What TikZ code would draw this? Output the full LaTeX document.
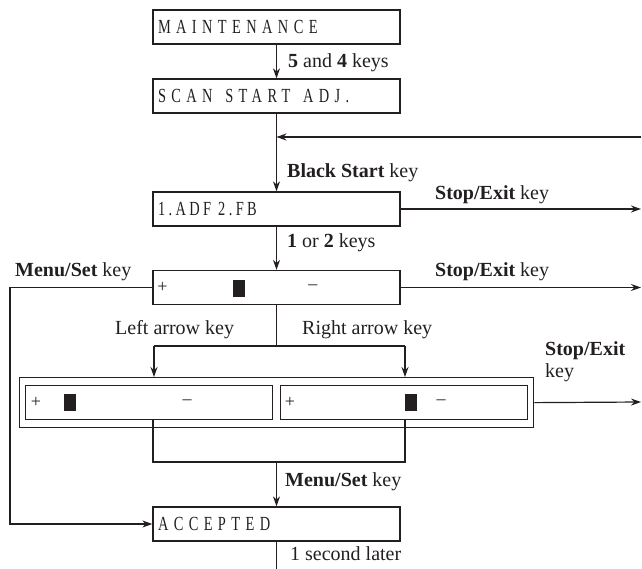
\documentclass[tikz,border=0pt]{standalone}
\usepackage{fontspec}
\setmainfont{Liberation Serif}
\newfontfamily\lcdfont[LetterSpace=27,FakeStretch=0.72]{Liberation Serif}
\newfontfamily\lcdnarrow[LetterSpace=17,FakeStretch=0.72]{Liberation Serif}
\usetikzlibrary{arrows.meta,positioning,calc}
\definecolor{ink}{RGB}{35,31,32}
\tikzset{
  >={Stealth[length=10pt,width=7pt]},
  lcd/.style={draw=ink,line width=1.3pt,minimum height=34pt,text width=237pt,
    inner xsep=5pt,inner ysep=0pt,align=left,text=ink,
    font=\lcdfont\fontsize{20}{22}\selectfont},
  frame/.style={draw=ink,line width=1.3pt,inner sep=0pt,anchor=north west},
  flow/.style={->,line width=1.2pt,draw=ink},
  wire/.style={line width=1.2pt,draw=ink},
  tag/.style={font=\fontsize{20}{22}\selectfont,text=ink,inner sep=0pt,anchor=west,align=left},
  sym/.style={font=\fontsize{18}{20}\selectfont,text=ink,inner sep=0pt},
  cursor/.style={fill=ink,draw=ink,minimum width=11pt,minimum height=16pt,inner sep=0pt},
}

\begin{document}
\begin{tikzpicture}[x=1pt,y=-1pt]
  \useasboundingbox (0,0) rectangle (642,569);
  % display boxes
  \node[lcd] (mnt) at (276.5,27) {MAINTENANCE};
  \node[lcd] (scan) at (276.5,96) {SCAN\hspace{6pt} START\hspace{6pt} ADJ.};
  \node[lcd,font=\lcdnarrow\fontsize{20}{22}\selectfont] (src) at (276.5,209) {1.ADF\hspace{7pt}2.FB};
  \node[lcd] (sel) at (276.5,287.5) {};
  \node[frame,minimum width=514pt,minimum height=50pt] (grp) at (19,377) {};
  \node[frame,minimum width=247pt,minimum height=34pt] (lft) at (25,385) {};
  \node[frame,minimum width=247.5pt,minimum height=34pt] (rgt) at (279.5,385) {};
  \node[lcd] (ok) at (276.5,524) {ACCEPTED};
  % level readouts
  \node[sym] (sp) at ($(sel.west)+(10,0)$) {+};
  \node[cursor] (sc) at ($(sel.west)+(86.5,0.5)$) {};
  \node[sym] (sm) at ($(sel.west)+(160.5,0)$) {–};
  \node[sym] (lp) at ($(lft.west)+(11,0)$) {+};
  \node[cursor] (lc) at ($(lft.west)+(44.5,0)$) {};
  \node[sym] (lm) at ($(lft.west)+(162,0)$) {–};
  \node[sym] (rp) at ($(rgt.west)+(10.5,0)$) {+};
  \node[cursor] (rc) at ($(rgt.west)+(131,0)$) {};
  \node[sym] (rm) at ($(rgt.west)+(161.5,0)$) {–};
  % free ends and bends
  \coordinate (back) at (641,137);
  \coordinate (q1) at (641,209);
  \coordinate (q2) at (641,287.5);
  \coordinate (q3) at (641,402);
  \coordinate (loop) at (10,0);
  \coordinate (fork) at (276.5,346);
  \coordinate (la) at (154,346);
  \coordinate (ra) at (405,346);
  \coordinate (lb) at (153,462);
  \coordinate (rb) at (405,462);
  \coordinate (tail) at (276.5,569);
  % connectors
  \draw[flow] (mnt) -- (scan);
  \draw[flow] (scan) -- (src);
  \draw[flow] (back) -- (back -| scan.south);
  \draw[flow] (src) -- (sel);
  \draw[flow] (src.east) -- (q1);
  \draw[flow] (sel.east) -- (q2);
  \draw[flow] (grp.east) -- (q3);
  \draw[flow] (sel.west) -- (loop |- sel.west) |- (ok.west);
  \draw[wire] (sel.south) -- (fork);
  \draw[wire] (la) -- (ra);
  \draw[flow] (la) -- (la |- grp.north);
  \draw[flow] (ra) -- (ra |- grp.north);
  \draw[wire] (lb |- lft.south) -- (lb) -- (rb) -- (rb |- rgt.south);
  \draw[flow] (ok.north |- lb) -- (ok.north);
  \draw[wire] (ok) -- (tail);
  % labels
  \node[tag] at (288,63) {\textbf{5} and \textbf{4} keys};
  \node[tag] at (287,173) {\textbf{Black Start} key};
  \node[tag] at (435,195) {\textbf{Stop/Exit} key};
  \node[tag] at (287,243) {\textbf{1} or \textbf{2} keys};
  \node[tag] at (15,272) {\textbf{Menu/Set} key};
  \node[tag] at (435,272) {\textbf{Stop/Exit} key};
  \node[tag] at (115,330) {Left arrow key};
  \node[tag] at (302,330) {Right arrow key};
  \node[tag] at (545,362) {\textbf{Stop/Exit}\\key};
  \node[tag] at (285,482) {\textbf{Menu/Set} key};
  \node[tag] at (290,554) {1 second later};
\end{tikzpicture}
\end{document}
